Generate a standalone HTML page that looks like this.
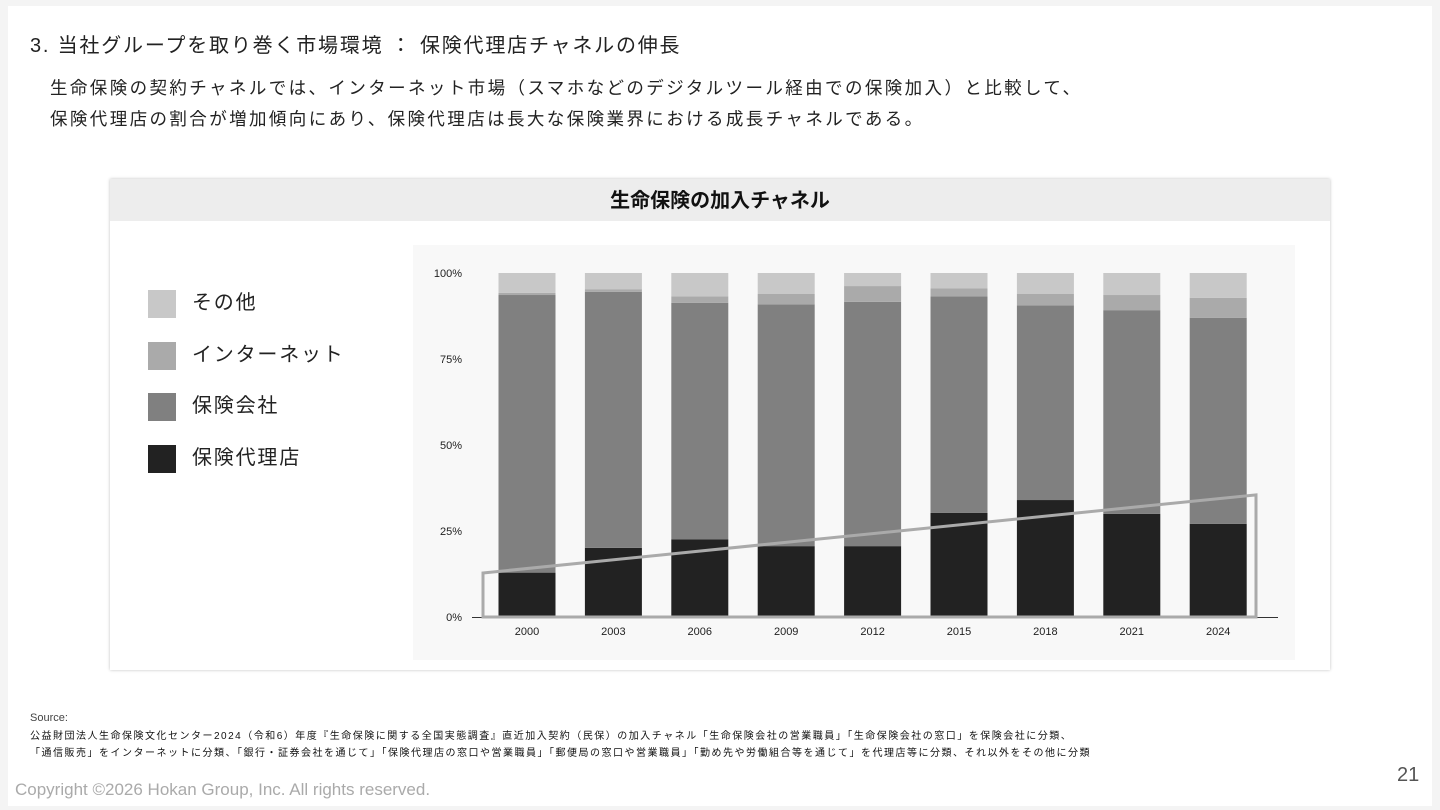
<!DOCTYPE html>
<html><head><meta charset="utf-8"><style>
body{margin:0;width:1440px;height:810px;background:#f4f4f4;font-family:"Liberation Sans","Noto Sans CJK JP",sans-serif;position:relative;overflow:hidden}
.page{position:absolute;left:8px;top:6px;width:1424px;height:800px;background:#fff}
.abs{position:absolute;white-space:nowrap}
</style></head><body>
<div class="page"></div>
<div class="abs" style="left:30px;top:29px;font-size:20px;letter-spacing:1.8px;color:#222">3. 当社グループを取り巻く市場環境 ： 保険代理店チャネルの伸長</div>
<div class="abs" style="left:50px;top:73px;font-size:17.5px;letter-spacing:2.4px;line-height:31px;color:#222">生命保険の契約チャネルでは、インターネット市場（スマホなどのデジタルツール経由での保険加入）と比較して、<br>保険代理店の割合が増加傾向にあり、保険代理店は長大な保険業界における成長チャネルである。</div>
<div class="abs" style="left:110px;top:179px;width:1220px;height:491px;background:#fff;box-shadow:0 0 3px rgba(0,0,0,.25)">
 <div style="height:42px;background:#ededed;text-align:center;font-size:20px;font-weight:bold;line-height:44px;color:#111">生命保険の加入チャネル</div>
</div>
<div id="legend"></div>
<svg id="chart" class="abs" style="left:0;top:0" width="1440" height="810"></svg>
<div class="abs" style="left:30px;top:712px;font-size:11px;color:#444">Source:</div>
<div class="abs" style="left:30px;top:728px;font-size:10px;letter-spacing:1.5px;line-height:17px;color:#111">公益財団法人生命保険文化センター2024（令和6）年度『生命保険に関する全国実態調査』直近加入契約（民保）の加入チャネル「生命保険会社の営業職員」「生命保険会社の窓口」を保険会社に分類、<br>「通信販売」をインターネットに分類、「銀行・証券会社を通じて」「保険代理店の窓口や営業職員」「郵便局の窓口や営業職員」「勤め先や労働組合等を通じて」を代理店等に分類、それ以外をその他に分類</div>
<div class="abs" style="left:15px;top:780px;font-size:17px;color:#aaa">Copyright ©2026 Hokan Group, Inc. All rights reserved.</div>
<div class="abs" style="left:1397px;top:764px;font-size:20px;color:#555">21</div>
<script>
const categories=["2000","2003","2006","2009","2012","2015","2018","2021","2024"];
const agentVals=[12.9,20.1,22.6,20.6,20.6,30.3,34.0,30.0,27.1];
const companyVals=[80.7,74.4,68.7,70.3,71.0,62.9,56.6,59.2,59.9];
const internetVals=[0.6,0.8,1.9,3.0,4.6,2.3,3.3,4.4,5.8];
const otherVals=[5.8,4.7,6.8,6.1,3.8,4.5,6.1,6.4,7.2];
const yTicks=[0,25,50,75,100];
const seriesNames=["その他","インターネット","保険会社","保険代理店"];
const NS="http://www.w3.org/2000/svg";
const svg=document.getElementById('chart');
const y=v=>617-v*3.44;
const x=i=>527+i*86.4;
function mk(t,a){const e=document.createElementNS(NS,t);for(const k in a)e.setAttribute(k,a[k]);svg.appendChild(e);return e;}
const bg=mk('rect',{x:413,y:245,width:882,height:415,fill:'#f8f8f8'});


yTicks.forEach(t=>{const e=mk('text',{x:462,y:y(t)+4,'font-size':11,'text-anchor':'end',fill:'#222'});e.textContent=t+'%';

});
const series=[[agentVals,'#222222','agent'],[companyVals,'#808080','company'],[internetVals,'#aaaaaa','internet'],[otherVals,'#c8c8c8','other']];
categories.forEach((c,i)=>{let base=0;series.forEach(s=>{const v=s[0][i];const r=mk('rect',{x:x(i)-28.5,y:y(base+v),width:57,height:v*3.44,fill:s[1]});

base+=v;});
const t=mk('text',{x:x(i),y:635,'font-size':11,'text-anchor':'middle',fill:'#222'});t.textContent=c;

});
const ax=mk('line',{x1:472,x2:1278,y1:617.5,y2:617.5,stroke:'#333','stroke-width':1});


const hl=mk('polygon',{points:`483,${y(12.8)} 1256,${y(35.5)} 1256,617 483,617`,fill:'none',stroke:'#aaa','stroke-width':3});


const lg=document.getElementById('legend');
const cols=['#c8c8c8','#aaaaaa','#808080','#222222'];
seriesNames.forEach((n,i)=>{const d=document.createElement('div');d.className='abs';d.style.cssText=`left:148px;top:${290+i*51.5}px;height:28px;font-size:20px;letter-spacing:1.8px;line-height:26px;color:#222`;
d.innerHTML=`<span style="display:inline-block;width:28px;height:28px;background:${cols[i]};vertical-align:top;margin-right:16px"></span>${n}`;

lg.appendChild(d);});
</script>
</body></html>
